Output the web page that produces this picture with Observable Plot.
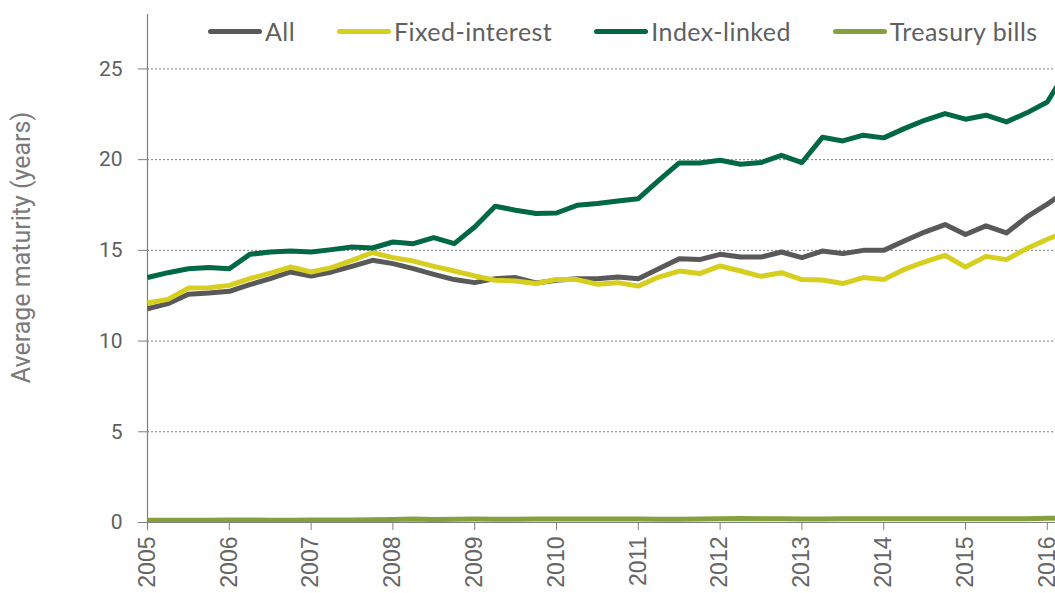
<!DOCTYPE html>
<html>
<head>
<meta charset="utf-8">
<script src="https://cdn.jsdelivr.net/npm/d3@7"></script>
<script src="https://cdn.jsdelivr.net/npm/@observablehq/plot@0.6"></script>
<style>
  html, body { margin: 0; padding: 0; background: #fff; }
  #wrap { position: relative; width: 1055px; height: 593px; overflow: hidden; }
  #legend { position: absolute; top: 15px; left: 208px; display: flex; align-items: center; gap: 42px;
            font-family: Lato, "Open Sans", sans-serif; font-size: 25px; line-height: 32px; letter-spacing: 0.45px;
            color: #5f5f5f; white-space: nowrap; }
  .item { display: flex; align-items: center; gap: 3px; }
  .sw { width: 54px; height: 5px; border-radius: 3px; display: inline-block; }
</style>
</head>
<body>
<div id="wrap"><div id="legend"></div></div>
<script>
// Quarterly observations, 2005 Q1 onward
const startYear = 2005;
const seriesNames = ["All", "Fixed-interest", "Index-linked", "Treasury bills"];
const seriesColors = ["#595959", "#d6cf1f", "#006847", "#84a13d"];

const allValues = [11.78,12.06,12.58,12.65,12.74,13.11,13.44,13.81,13.59,13.81,14.12,14.45,14.27,13.99,13.68,13.39,13.22,13.44,13.5,13.2,13.35,13.44,13.44,13.53,13.44,13.99,14.54,14.49,14.78,14.63,14.63,14.91,14.6,14.96,14.82,15.0,15.0,15.52,16.01,16.42,15.87,16.35,15.96,16.84,17.55,18.32];
const fixedValues = [12.1,12.3,12.92,12.94,13.07,13.44,13.75,14.08,13.81,14.05,14.45,14.88,14.6,14.41,14.12,13.86,13.59,13.35,13.31,13.17,13.4,13.39,13.13,13.22,13.03,13.53,13.86,13.72,14.14,13.86,13.57,13.77,13.39,13.37,13.17,13.5,13.39,13.95,14.36,14.73,14.08,14.67,14.49,15.1,15.61,16.07];
const indexValues = [13.5,13.77,13.99,14.05,13.99,14.78,14.91,14.97,14.91,15.04,15.19,15.13,15.46,15.37,15.7,15.37,16.29,17.43,17.21,17.03,17.06,17.48,17.58,17.72,17.85,18.86,19.82,19.82,19.97,19.75,19.84,20.24,19.84,21.23,21.03,21.35,21.2,21.71,22.17,22.54,22.23,22.45,22.08,22.58,23.18,25.0];
const billValues = [0.12,0.13,0.13,0.12,0.14,0.14,0.13,0.13,0.14,0.14,0.14,0.15,0.17,0.19,0.16,0.18,0.19,0.18,0.18,0.19,0.19,0.19,0.19,0.19,0.19,0.18,0.18,0.19,0.2,0.22,0.21,0.2,0.19,0.19,0.2,0.2,0.2,0.2,0.2,0.2,0.2,0.21,0.21,0.2,0.23,0.24];

const yearTicks = [2005,2006,2007,2008,2009,2010,2011,2012,2013,2014,2015,2016];
const yTicks = [0,5,10,15,20,25];
const gridTicks = [5,10,15,20,25];
const yTitle = "Average maturity (years)";

const valueLists = [allValues, fixedValues, indexValues, billValues];
const data = [];
valueLists.forEach((vals, s) => vals.forEach((v, i) => data.push({date: startYear + i / 4, value: v, series: seriesNames[s]})));

const chart = Plot.plot({
  width: 1055,
  height: 593,
  marginLeft: 147,
  marginRight: 0,
  marginTop: 14,
  marginBottom: 71,
  style: {fontFamily: "Roboto, 'Liberation Sans', sans-serif", color: "#595959", background: "#fff"},
  x: {domain: [2005, 2016.1]},
  y: {domain: [0, 28]},
  color: {domain: seriesNames, range: seriesColors},
  marks: [
    Plot.gridY(gridTicks, {stroke: "#7f7f7f", strokeOpacity: 1, strokeDasharray: "2,2", strokeWidth: 1}),
    Plot.axisY(yTicks, {tickSize: 9, tickPadding: 16, fontSize: 21, stroke: "#7f7f7f",
      label: null, fill: "#5f5f5f"}),
    Plot.text([yTitle], {text: d => d, frameAnchor: "left", textAnchor: "middle", rotate: -90,
      dx: -126, dy: -21, fontSize: 25, fill: "#7a7a7a"}),
    Plot.axisX(yearTicks, {tickFormat: "d", tickRotate: -90, tickSize: 8, tickPadding: 6, fontSize: 23,
      fontFamily: "'Liberation Sans', Arial, sans-serif",
      stroke: "#7f7f7f", label: null, fill: "#666"}),
    Plot.ruleX([2005], {stroke: "#7f7f7f", strokeWidth: 1.2}),
    Plot.ruleY([0], {stroke: "#7f7f7f", strokeWidth: 1.2}),
    Plot.line(data, {x: "date", y: "value", z: "series", stroke: "series", strokeWidth: 5,
      strokeLinejoin: "round", strokeLinecap: "butt", clip: true})
  ]
});

const wrap = document.getElementById("wrap");
wrap.insertBefore(chart, wrap.firstChild);

const legend = document.getElementById("legend");
seriesNames.forEach((name, i) => {
  const it = document.createElement("span");
  it.className = "item";
  const sw = document.createElement("span");
  sw.className = "sw";
  sw.style.background = seriesColors[i];
  const tx = document.createElement("span");
  tx.textContent = name;
  it.appendChild(sw);
  it.appendChild(tx);
  legend.appendChild(it);
});
</script>
</body>
</html>
